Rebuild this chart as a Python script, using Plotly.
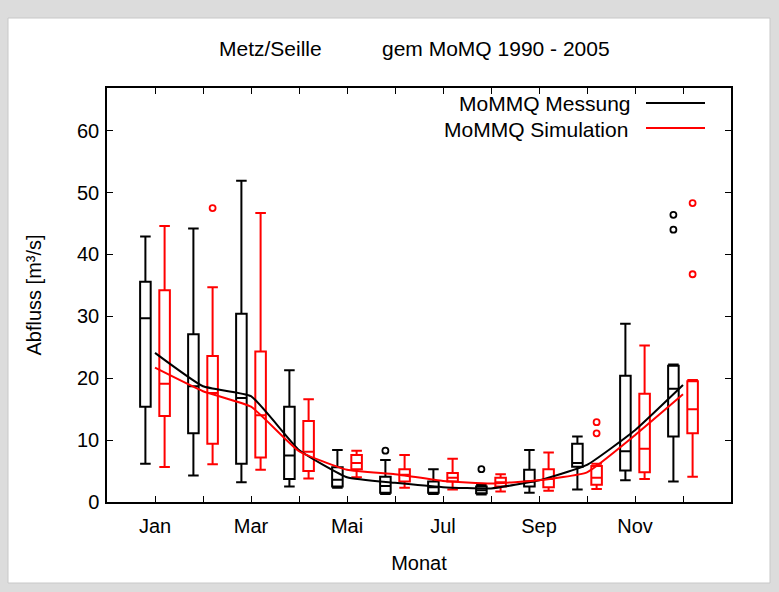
import plotly.graph_objects as go
import numpy as np

# ---------------- data ----------------
months = [1, 2, 3, 4, 5, 6, 7, 8, 9, 10, 11, 12]
month_labels = ["Jan", "", "Mar", "", "Mai", "", "Jul", "", "Sep", "", "Nov", ""]

# Messung (measured) box statistics
mes_low = [6.2, 4.3, 3.2, 2.5, 2.3, 1.3, 1.3, 1.2, 1.5, 2.0, 3.5, 3.3]
mes_q1 = [15.4, 11.1, 6.2, 3.7, 2.5, 1.5, 1.5, 1.4, 2.5, 5.7, 5.1, 10.6]
mes_med = [29.7, 18.7, 16.8, 7.5, 3.6, 2.6, 2.4, 1.9, 3.3, 6.3, 8.2, 18.3]
mes_q3 = [35.6, 27.1, 30.4, 15.4, 5.6, 4.1, 3.3, 2.5, 5.2, 9.4, 20.4, 22.0]
mes_high = [42.9, 44.2, 51.9, 21.3, 8.4, 6.8, 5.3, 2.8, 8.4, 10.6, 28.8, 22.2]
mes_mean = [24.1, 18.7, 17.1, 8.4, 4.0, 3.1, 2.4, 2.2, 3.5, 6.0, 11.6, 18.9]
mes_out_month = [6, 8, 12, 12]
mes_out_val = [8.3, 5.3, 46.4, 44.0]

# Simulation box statistics
sim_low = [5.65, 6.1, 5.2, 3.8, 4.0, 2.3, 2.0, 1.7, 1.8, 2.1, 3.7, 4.1]
sim_q1 = [13.9, 9.4, 7.2, 5.0, 5.3, 3.3, 3.3, 2.5, 2.4, 2.8, 4.8, 11.1]
sim_med = [19.1, 17.6, 14.0, 8.1, 6.3, 4.4, 3.9, 3.2, 3.7, 3.9, 8.6, 15.0]
sim_q3 = [34.2, 23.6, 24.3, 13.1, 7.6, 5.3, 4.7, 3.9, 5.3, 5.8, 17.5, 19.5]
sim_high = [44.6, 34.7, 46.7, 16.6, 8.3, 7.6, 7.0, 4.5, 8.0, 6.2, 25.3, 19.7]
sim_mean = [21.7, 17.9, 15.4, 8.2, 5.2, 4.5, 3.4, 3.0, 3.5, 4.8, 10.8, 17.4]
sim_out_month = [2, 10, 10, 12, 12]
sim_out_val = [47.5, 12.9, 11.1, 48.3, 36.8]

OFFSET = 0.2
BOXW = 0.22
FONT = "Liberation Sans, Arial, sans-serif"

m = np.array(months, dtype=float)

fig = go.Figure()

# ---------- background window frame ----------
L, R, T, B = 107, 48, 88, 90
PW, PH = 779 - L - R, 592 - T - B


def px(xp):
    return (xp - L) / PW


def py(yp):
    return (592 - B - yp) / PH


fig.add_shape(type="rect", xref="paper", yref="paper",
              x0=px(8), x1=px(770), y0=py(583), y1=py(18),
              fillcolor="white", line=dict(color="#c8c8c8", width=1), layer="below")

# ---------- boxes ----------
for name, col, off, lo, q1, md, q3, hi in [
    ("mes", "black", -OFFSET, mes_low, mes_q1, mes_med, mes_q3, mes_high),
    ("sim", "red", OFFSET, sim_low, sim_q1, sim_med, sim_q3, sim_high),
]:
    fig.add_trace(go.Box(
        x=m + off, q1=q1, median=md, q3=q3, lowerfence=lo, upperfence=hi,
        width=BOXW, whiskerwidth=1, boxpoints=False,
        line=dict(color=col, width=2), fillcolor="rgba(0,0,0,0)",
        showlegend=False, hoverinfo="skip",
    ))

# ---------- outliers ----------
fig.add_trace(go.Scatter(
    x=np.array(mes_out_month, dtype=float) - OFFSET, y=mes_out_val, mode="markers",
    marker=dict(symbol="circle-open", size=6, color="black", line=dict(width=1.8)),
    showlegend=False))
fig.add_trace(go.Scatter(
    x=np.array(sim_out_month, dtype=float) + OFFSET, y=sim_out_val, mode="markers",
    marker=dict(symbol="circle-open", size=6, color="red", line=dict(width=1.8)),
    showlegend=False))

# ---------- mean lines ----------
fig.add_trace(go.Scatter(x=months, y=mes_mean, mode="lines",
                         line=dict(color="black", width=2, shape="spline", smoothing=0.4),
                         showlegend=False))
fig.add_trace(go.Scatter(x=months, y=sim_mean, mode="lines",
                         line=dict(color="red", width=2, shape="spline", smoothing=0.4),
                         showlegend=False))

# ---------- legend (gnuplot style: text left, line sample right) ----------
for txt, col, yy, xr in [("MoMMQ Messung", "black", 104, 633), ("MoMMQ Simulation", "red", 129, 630)]:
    fig.add_annotation(xref="paper", yref="paper", x=px(xr), y=py(yy), text=txt,
                       showarrow=False, xanchor="right", yanchor="middle",
                       font=dict(family=FONT, size=21, color="black"))
    fig.add_shape(type="line", xref="paper", yref="paper",
                  x0=px(646), x1=px(705), y0=py(yy - 1), y1=py(yy - 1),
                  line=dict(color=col, width=2))

# ---------- title ----------
fig.add_annotation(xref="paper", yref="paper", x=px(270), y=py(48), text="Metz/Seille",
                   showarrow=False, xanchor="center", yanchor="middle",
                   font=dict(family=FONT, size=21, color="black"))
fig.add_annotation(xref="paper", yref="paper", x=px(496), y=py(48), text="gem MoMQ 1990 - 2005",
                   showarrow=False, xanchor="center", yanchor="middle",
                   font=dict(family=FONT, size=21, color="black"))

fig.update_layout(
    width=779, height=592,
    margin=dict(l=L, r=R, t=T, b=B),
    paper_bgcolor="#dcdcdc", plot_bgcolor="white",
    boxmode="overlay",
    font=dict(family=FONT, size=20, color="black"),
    xaxis=dict(range=[0, 13], tickvals=months, ticktext=month_labels,
               ticks="inside", ticklen=6, tickwidth=1.2, tickcolor="black",
               showline=True, linecolor="black", linewidth=1.5, mirror="allticks",
               showgrid=False, zeroline=False, ticklabelstandoff=5,
               title=dict(text="Monat", standoff=20, font=dict(size=20)),
               tickfont=dict(size=20)),
    yaxis=dict(range=[0, 66.9], tickvals=[0, 10, 20, 30, 40, 50, 60],
               ticks="inside", ticklen=6, tickwidth=1.2, tickcolor="black",
               showline=True, linecolor="black", linewidth=1.5, mirror="allticks",
               showgrid=False, zeroline=False, ticklabelstandoff=2,
               title=dict(text="Abfluss [m³/s]", standoff=30, font=dict(size=20)),
               tickfont=dict(size=20)),
)

fig.write_html("out.html")
